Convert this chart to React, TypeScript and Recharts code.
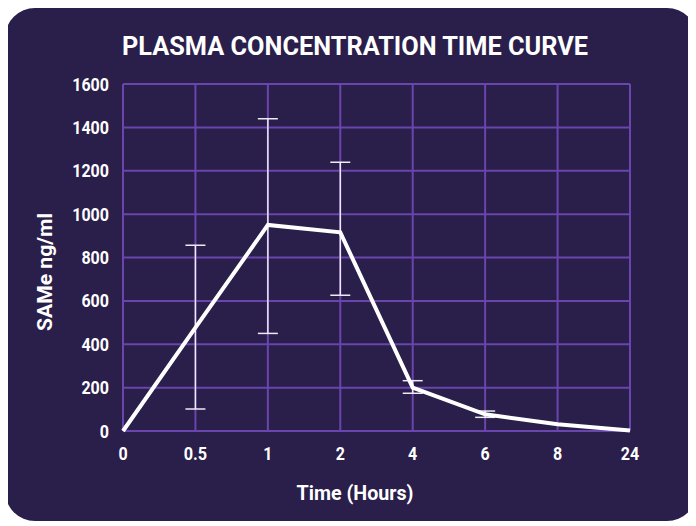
import { LineChart, Line, XAxis, YAxis, CartesianGrid, ErrorBar } from "recharts";

// time points (hours) and mean SAMe plasma concentration (ng/ml)
const timeLabels = ["0", "0.5", "1", "2", "4", "6", "8", "24"];
const concentration = [0, 477, 950, 916, 200, 77, 31, 2];
// error bars below / above the mean, null where there is none
const errLow: (number | null)[] = [null, 376, 500, 290, 26, 14, null, null];
const errHigh: (number | null)[] = [null, 380, 490, 323, 32, 15, null, null];
const yTicks = [0, 200, 400, 600, 800, 1000, 1200, 1400, 1600];

const BG = "#2a1e4a";
const GRID = "#6a45ad";
const FONT = "Roboto, 'Noto Sans', sans-serif";

const data = timeLabels.map((t, i) => ({
  time: t,
  value: concentration[i],
  err: errLow[i] == null ? null : [errLow[i], errHigh[i]],
}));

// the original uses a condensed face, so squeeze the labels a bit
function labelWidth(s: string): number {
  let w = 0;
  for (const ch of s) w += ch === "." ? 5 : 9.2;
  return w;
}

function XTick(props: any) {
  const { x, y, payload } = props;
  const s = String(payload.value);
  return (
    <text
      x={x}
      y={y}
      dy={13}
      textAnchor="middle"
      fill="#ffffff"
      fontFamily={FONT}
      fontWeight={700}
      fontSize={18}
      textLength={labelWidth(s)}
      lengthAdjust="spacingAndGlyphs"
    >
      {s}
    </text>
  );
}

function YTick(props: any) {
  const { x, y, payload } = props;
  const s = String(payload.value);
  return (
    <text
      x={x}
      y={y}
      dy={6.5}
      textAnchor="end"
      fill="#ffffff"
      fontFamily={FONT}
      fontWeight={700}
      fontSize={18}
      textLength={labelWidth(s)}
      lengthAdjust="spacingAndGlyphs"
    >
      {s}
    </text>
  );
}

export default function App() {
  return (
    <div
      style={{
        position: "relative",
        marginLeft: -3,
        width: 692,
        height: 513,
        background: BG,
        borderRadius: 30,
        overflow: "hidden",
      }}
    >
      <LineChart
        width={692}
        height={513}
        data={data}
        margin={{ top: 76, right: 67, bottom: 60, left: 58 }}
      >
        <CartesianGrid stroke={GRID} strokeWidth={2} />
        <XAxis
          dataKey="time"
          axisLine={false}
          tickLine={false}
          tick={<XTick />}
          tickMargin={10}
          height={30}
          interval={0}
        />
        <YAxis
          domain={[0, 1600]}
          ticks={yTicks}
          axisLine={false}
          tickLine={false}
          tick={<YTick />}
          tickMargin={8}
          width={60}
          interval={0}
        />
        <Line
          type="linear"
          dataKey="value"
          stroke="#ffffff"
          strokeWidth={4}
          dot={false}
          isAnimationActive={false}
        >
          <ErrorBar dataKey="err" width={10} stroke="#eeeaf4" strokeWidth={1.5} />
        </Line>
      </LineChart>

      <svg
        width={692}
        height={513}
        style={{ position: "absolute", left: 0, top: 0, pointerEvents: "none" }}
      >
        <text
          x={350}
          y={47}
          textAnchor="middle"
          fill="#ffffff"
          fontFamily={FONT}
          fontWeight={700}
          fontSize={25}
          textLength={466}
          lengthAdjust="spacingAndGlyphs"
        >
          PLASMA CONCENTRATION TIME CURVE
        </text>
        <text
          x={350}
          y={492}
          textAnchor="middle"
          fill="#ffffff"
          fontFamily={FONT}
          fontWeight={700}
          fontSize={21}
          textLength={117}
          lengthAdjust="spacingAndGlyphs"
        >
          Time (Hours)
        </text>
        <text
          x={0}
          y={0}
          transform="translate(47 264) rotate(-90)"
          textAnchor="middle"
          fill="#ffffff"
          fontFamily={FONT}
          fontWeight={700}
          fontSize={21}
          textLength={118}
          lengthAdjust="spacingAndGlyphs"
        >
          SAMe ng/ml
        </text>
      </svg>
    </div>
  );
}
